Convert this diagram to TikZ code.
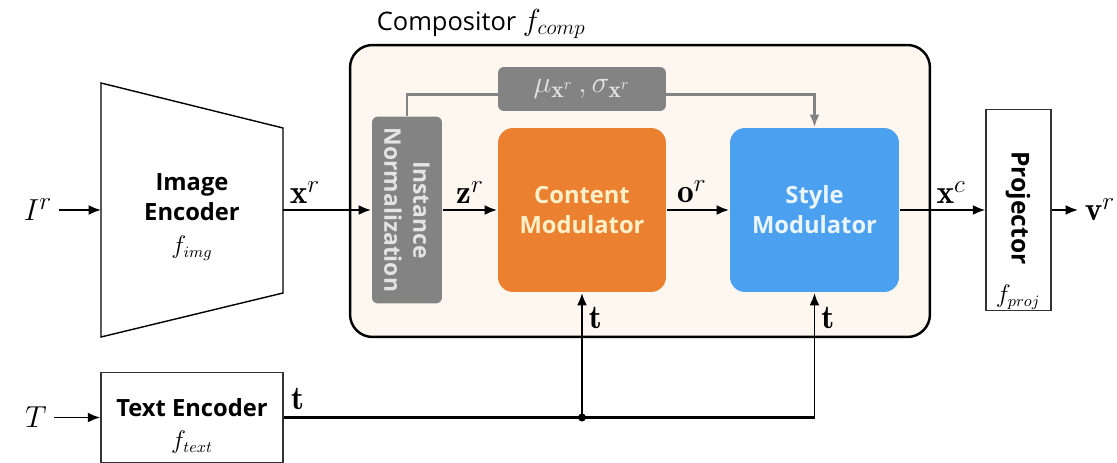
\documentclass[tikz,border=0pt]{standalone}
\usepackage{amsmath}
\usepackage{fontspec}
\setsansfont{Open Sans}
\usetikzlibrary{positioning, arrows.meta, calc}
\definecolor{compfill}{HTML}{FDF7F0}
\definecolor{cmorange}{HTML}{EB8130}
\definecolor{cmtext}{HTML}{FFF0C8}
\definecolor{smblue}{HTML}{4BA0F0}
\definecolor{smtext}{HTML}{EAF5FF}
\definecolor{ingray}{HTML}{838383}
\definecolor{intext}{HTML}{E4E4E4}

\begin{document}
\begin{tikzpicture}[x=0.02cm, y=-0.02cm, >={Latex[length=2.5mm,width=2mm]},
  line width=1.1pt,
  block/.style={draw=black!80, line width=0.8pt, rectangle, align=center, inner sep=0pt},
  mod/.style={rectangle, rounded corners=0.3cm, align=center, font=\sffamily\bfseries\fontsize{13.5}{17}\selectfont},
  graybox/.style={fill=ingray, rounded corners=0.12cm},
  title/.style={font=\sffamily\bfseries\fontsize{13.5}{17}\selectfont, align=center},
  lbl/.style={font=\fontsize{19}{22}\selectfont},
  sub/.style={font=\fontsize{13.5}{15}\selectfont}]
  \useasboundingbox (0,0) rectangle (1117,463);

  \node[draw, line width=1.4pt, fill=compfill, rounded corners=0.45cm, minimum width=11.6cm, minimum height=5.84cm] (comp) at (640,191) {};
  \node[font=\sffamily\fontsize{14.5}{17}\selectfont, anchor=west] (comptitle) at (370,24) {Compositor \fontsize{17}{20}\selectfont$f_{comp}$};

  \node[graybox, minimum width=1.4cm, minimum height=3.74cm] (inorm) at (407,210) {};
  \node[rotate=-90, text=intext, font=\sffamily\bfseries\fontsize{13}{16.5}\selectfont, align=center] (intxt) at (inorm.center) {Instance\\Normalization};
  \node[mod, fill=cmorange, text=cmtext, minimum width=3.36cm, minimum height=3.28cm] (cmod) at (582,210) {Content\\Modulator};
  \node[mod, fill=smblue, text=smtext, minimum width=3.38cm, minimum height=3.28cm] (smod) at (814.5,210) {Style\\Modulator};

  \draw[ingray, line width=1.2pt, ->] (inorm.north) -- ++(0,-21) -| (smod.north);
  \node[graybox, minimum width=3.36cm, minimum height=0.88cm, text=intext, lbl] (stats) at (582,89) {$\mu_{\mathbf{x}^r}\,,\sigma_{\mathbf{x}^r}$};

  \draw[line width=0.8pt] (101,83) coordinate (ietl) -- (283,128) coordinate (ietr) -- (283,293) coordinate (iebr) -- (101,337) coordinate (iebl) -- cycle;
  \coordinate (iein) at (101,210);
  \coordinate (ieout) at (283,210);
  \node[title] (imgenc) at (192,197) {Image\\Encoder};
  \node[sub] (fimg) at (192,248) {$f_{img}$};

  \node[block, minimum width=1.3cm, minimum height=4.02cm] (proj) at (1018.5,210) {};
  \node[title, rotate=-90, font=\sffamily\bfseries\fontsize{14}{17}\selectfont] (projtxt) at (1018,208) {Projector};
  \node[sub] (fproj) at (1018,297) {$f_{proj}$};

  \node[block, minimum width=3.64cm, minimum height=1.8cm] (tenc) at (192,417.5) {};
  \node[title] (tenctxt) at (192,408) {Text Encoder};
  \node[sub] (ftext) at (192,442) {$f_{text}$};

  \node[lbl] (ir) at (38,210) {$I^r$};
  \node[lbl] (T) at (36,417.5) {$T$};
  \node[lbl] (vr) at (1100,210) {$\mathbf{v}^r$};

  \draw[->] (ir) -- (iein);
  \draw[->] (ieout) -- node[lbl, above, pos=0.25] {$\mathbf{x}^r$} (inorm.west);
  \draw[->] (inorm.east) -- node[lbl, above] {$\mathbf{z}^r$} (cmod.west);
  \draw[->] (cmod) -- node[lbl, above, pos=0.4] {$\mathbf{o}^r$} (smod);
  \draw[->] (smod) -- node[lbl, above, pos=0.6] {$\mathbf{x}^c$} (proj);
  \draw[->] (proj) -- (vr);
  \draw[->] (T) -- (T -| tenc.west);

  \coordinate (tj) at (cmod.south |- tenc.east);
  \draw[line width=1.8pt] (tenc.east) -- node[lbl, at start, above right] {$\mathbf{t}$} (tj -| smod.south);
  \draw[->] (tj) -- node[lbl, pos=0.8, right] {$\mathbf{t}$} (cmod.south);
  \draw[->] (tj -| smod.south) -- node[lbl, pos=0.8, right] {$\mathbf{t}$} (smod.south);
  \fill (tj) circle (4);
\end{tikzpicture}
\end{document}
